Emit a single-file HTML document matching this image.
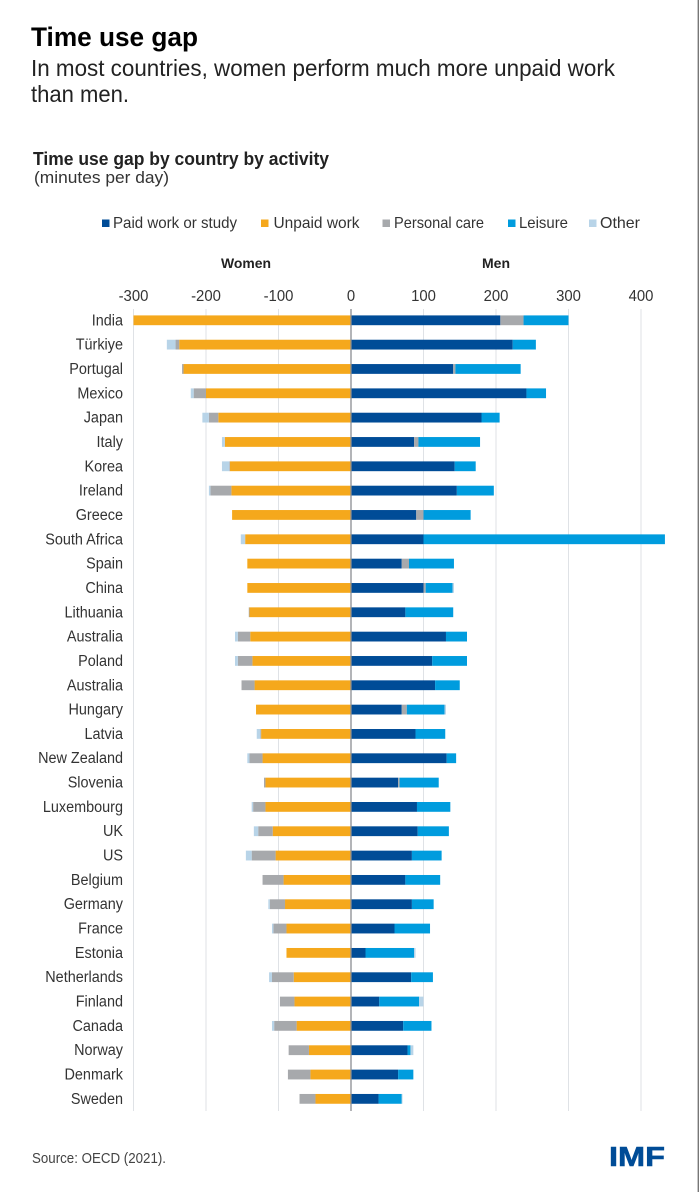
<!DOCTYPE html>
<html lang="en">
<head>
<meta charset="utf-8">
<title>Time use gap</title>
<style>
html,body{margin:0;padding:0;background:#fff;width:699px;height:1192px;overflow:hidden}
svg{display:block;font-family:"Liberation Sans",sans-serif}
</style>
</head>
<body>
<svg id="chart" width="699" height="1192" viewBox="0 0 699 1192" xmlns="http://www.w3.org/2000/svg">
  <rect x="0" y="0" width="699" height="1192" fill="#fff"/>
  <rect x="697.6" y="0" width="1.4" height="1192" fill="#777"/>
  <text x="31" y="46" font-size="27" font-weight="bold" fill="#000" textLength="167" lengthAdjust="spacingAndGlyphs">Time use gap</text>
  <text x="31" y="76" font-size="23.5" fill="#222" textLength="584" lengthAdjust="spacingAndGlyphs">In most countries, women perform much more unpaid work</text>
  <text x="31" y="102" font-size="23.5" fill="#222" textLength="98" lengthAdjust="spacingAndGlyphs">than men.</text>
  <text x="33" y="165" font-size="18.5" font-weight="bold" fill="#222" textLength="296" lengthAdjust="spacingAndGlyphs">Time use gap by country by activity</text>
  <text x="34" y="183" font-size="17" fill="#333" textLength="135" lengthAdjust="spacingAndGlyphs">(minutes per day)</text>

  <g>
    <rect x="102" y="219.500" width="7.500" height="7.500" fill="#004c97"/>
    <text x="113" y="228" font-size="16" fill="#333" textLength="124" lengthAdjust="spacingAndGlyphs">Paid work or study</text>
    <rect x="261" y="219.500" width="7.500" height="7.500" fill="#f5a81c"/>
    <text x="273.500" y="228" font-size="16" fill="#333" textLength="86" lengthAdjust="spacingAndGlyphs">Unpaid work</text>
    <rect x="382.500" y="219.500" width="7.500" height="7.500" fill="#a7a9ac"/>
    <text x="394" y="228" font-size="16" fill="#333" textLength="90" lengthAdjust="spacingAndGlyphs">Personal care</text>
    <rect x="508" y="219.500" width="7.500" height="7.500" fill="#009cde"/>
    <text x="519" y="228" font-size="16" fill="#333" textLength="49" lengthAdjust="spacingAndGlyphs">Leisure</text>
    <rect x="589" y="219.500" width="7.500" height="7.500" fill="#b8d4e8"/>
    <text x="600" y="228" font-size="16" fill="#333" textLength="40" lengthAdjust="spacingAndGlyphs">Other</text>
  </g>

  <text x="221" y="268" font-size="14" font-weight="bold" fill="#222" textLength="50" lengthAdjust="spacingAndGlyphs">Women</text>
  <text x="482" y="268" font-size="14" font-weight="bold" fill="#222" textLength="28" lengthAdjust="spacingAndGlyphs">Men</text>

  <g id="grid"></g>
  <g id="xticks"></g>
  <g id="bars"></g>
  <g id="ylabels"></g>
  <g id="zero"></g>

  <text x="32" y="1163" font-size="14.500" fill="#444" textLength="134" lengthAdjust="spacingAndGlyphs">Source: OECD (2021).</text>
  <text x="609" y="1166" font-size="28" font-weight="bold" fill="#004c97" stroke="#004c97" stroke-width="0.6" textLength="56" lengthAdjust="spacingAndGlyphs">IMF</text>
</svg>
<script>
const countries = ["India","Türkiye","Portugal","Mexico","Japan","Italy","Korea","Ireland","Greece","South Africa","Spain","China","Lithuania","Australia","Poland","Australia","Hungary","Latvia","New Zealand","Slovenia","Luxembourg","UK","US","Belgium","Germany","France","Estonia","Netherlands","Finland","Canada","Norway","Denmark","Sweden"];
const xTickValues = [-300,-200,-100,0,100,200,300,400];
const womenUnpaid = [300,237,231,200,183,174,167,165,164,146,143,143,140,139,136,133,131,124,122,118,118,108,104,93,91,89,89,79,78,75,58,56,49];
const womenCare   = [0,5,2,17,13,0,1,29,0,0,0,0,1,17,20,18,0,1,18,2,17,20,33,29,21,18,0,30,20,31,28,31,22];
const womenOther  = [0,12,0,4,9,4,10,2,0,6,0,0,0,4,4,0,0,5,3,0,2,6,8,0,2,2,0,4,0,3,0,0,0];
const menPaid     = [206,223,141,242,180,87,143,146,90,100,70,100,75,131,112,116,70,89,132,65,91,92,84,75,84,60,20,83,39,72,78,65,38];
const menCare     = [32,0,3,0,0,6,0,0,10,0,10,3,0,0,0,0,7,0,0,2,0,0,0,0,0,0,0,0,0,0,0,0,0];
const menLeisure  = [62,32,90,27,25,85,29,51,65,333,62,37,66,29,48,34,52,41,13,54,46,43,41,48,30,49,67,30,55,39,4,21,32];
const menOther    = [0,0,0,0,0,0,0,0,0,0,0,2,0,0,0,0,2,0,0,0,0,0,0,0,0,0,2,0,6,0,4,0,1];

const colorPaid = "#004c97", colorUnpaid = "#f5a81c", colorCare = "#a7a9ac", colorLeisure = "#009cde", colorOther = "#b8d4e8";
const NS = "http://www.w3.org/2000/svg";
function xScale(v){ return 351 + v * 0.725; }
function yScale(i){ return 320.3 + i * 24.33; }
const barHeight = 9.8;
const labelCondense = 0.93;

function condense(el){
  const natural = el.getComputedTextLength();
  el.setAttribute("textLength", natural * labelCondense);
  el.setAttribute("lengthAdjust", "spacingAndGlyphs");
}

const gridG = document.getElementById("grid");
const tickG = document.getElementById("xticks");
xTickValues.forEach(function(t){
  if(t !== 0){
    const line = document.createElementNS(NS,"line");
    
    
    line.setAttribute("x1", xScale(t));
    line.setAttribute("x2", xScale(t));
    line.setAttribute("y1", 309);
    line.setAttribute("y2", 1111);
    line.setAttribute("stroke", "#dfe2e6");
    line.setAttribute("stroke-width", "1");
    gridG.appendChild(line);
  }
  const label = document.createElementNS(NS,"text");
  
  
  label.setAttribute("x", xScale(t));
  label.setAttribute("y", 301);
  label.setAttribute("font-size", "16");
  label.setAttribute("fill", "#333");
  label.setAttribute("text-anchor", "middle");
  label.textContent = String(t);
  tickG.appendChild(label);
  condense(label);
});

const barsG = document.getElementById("bars");
function addSegment(i, start, length, color, name){
  if(length <= 0) return;
  const a = xScale(start), b = xScale(start + length);
  const r = document.createElementNS(NS,"rect");
  
  
  r.setAttribute("x", Math.min(a,b));
  r.setAttribute("y", yScale(i) - barHeight / 2);
  r.setAttribute("width", Math.abs(b - a));
  r.setAttribute("height", barHeight);
  r.setAttribute("fill", color);
  barsG.appendChild(r);
}
countries.forEach(function(c, i){
  let w = 0;
  addSegment(i, -womenUnpaid[i], womenUnpaid[i], colorUnpaid, "bar-women-unpaid-work");
  w = womenUnpaid[i];
  addSegment(i, -(w + womenCare[i]), womenCare[i], colorCare, "bar-women-personal-care");
  w += womenCare[i];
  addSegment(i, -(w + womenOther[i]), womenOther[i], colorOther, "bar-women-other");
  let m = 0;
  addSegment(i, m, menPaid[i], colorPaid, "bar-men-paid-work");
  m += menPaid[i];
  addSegment(i, m, menCare[i], colorCare, "bar-men-personal-care");
  m += menCare[i];
  addSegment(i, m, menLeisure[i], colorLeisure, "bar-men-leisure");
  m += menLeisure[i];
  addSegment(i, m, menOther[i], colorOther, "bar-men-other");

  const label = document.createElementNS(NS,"text");
  
  
  label.setAttribute("x", 123);
  label.setAttribute("y", yScale(i) + 5);
  label.setAttribute("font-size", "15.5");
  label.setAttribute("fill", "#333");
  label.setAttribute("text-anchor", "end");
  label.textContent = c;
  document.getElementById("ylabels").appendChild(label);
  condense(label);
});

const zeroLine = document.createElementNS(NS,"line");


zeroLine.setAttribute("x1", xScale(0));
zeroLine.setAttribute("x2", xScale(0));
zeroLine.setAttribute("y1", 309);
zeroLine.setAttribute("y2", 1111);
zeroLine.setAttribute("stroke", "#8a8d91");
zeroLine.setAttribute("stroke-width", "1.3");
document.getElementById("zero").appendChild(zeroLine);
</script>
</body>
</html>
